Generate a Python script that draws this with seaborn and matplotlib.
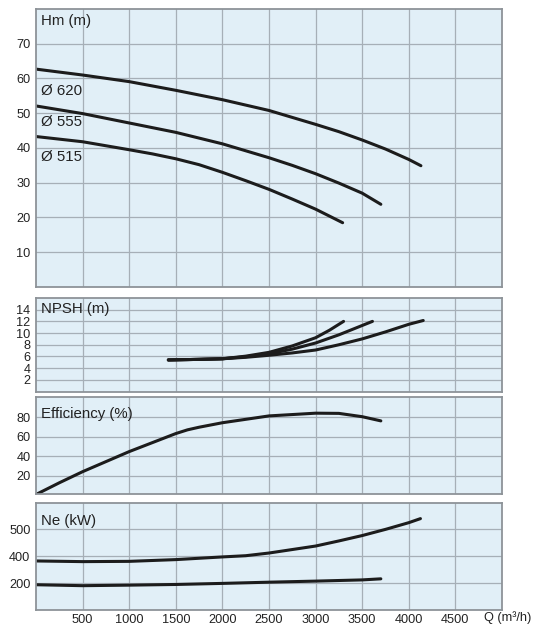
import numpy as np
import pandas as pd
import matplotlib
matplotlib.use("Agg")
import matplotlib.pyplot as plt
import seaborn as sns

# --- data ---
q_ticks = [500, 1000, 1500, 2000, 2500, 3000, 3500, 4000, 4500]

# head curves per impeller diameter
hm_labels = ["Ø 620", "Ø 555", "Ø 515"]
q_620 = [0, 500, 1000, 1500, 2000, 2500, 3000, 3250, 3500, 3750, 4000, 4130]
hm_620 = [62.7, 61.0, 59.1, 56.6, 53.9, 50.8, 46.8, 44.7, 42.3, 39.7, 36.7, 34.9]
q_555 = [0, 500, 1000, 1500, 2000, 2500, 2750, 3000, 3250, 3500, 3700]
hm_555 = [52.1, 49.9, 47.2, 44.5, 41.2, 37.2, 35.0, 32.6, 29.9, 27.0, 23.8]
q_515 = [0, 500, 1000, 1250, 1500, 1750, 2000, 2250, 2500, 2750, 3000, 3290]
hm_515 = [43.3, 41.8, 39.5, 38.3, 36.9, 35.2, 33.0, 30.6, 28.1, 25.3, 22.4, 18.5]

# NPSH curves
q_npsh1 = [1420, 1750, 2000, 2250, 2500, 2750, 3000, 3150, 3300]
npsh1 = [5.4, 5.5, 5.6, 6.05, 6.7, 7.8, 9.2, 10.5, 12.0]
q_npsh2 = [1420, 1750, 2000, 2250, 2500, 2750, 3000, 3250, 3500, 3610]
npsh2 = [5.4, 5.5, 5.6, 5.95, 6.45, 7.25, 8.3, 9.7, 11.3, 12.0]
q_npsh3 = [1420, 1750, 2000, 2250, 2500, 2750, 3000, 3250, 3500, 3750, 4000, 4155]
npsh3 = [5.4, 5.5, 5.6, 5.85, 6.2, 6.6, 7.1, 8.0, 9.0, 10.2, 11.5, 12.15]

# efficiency
q_eff = [0, 250, 500, 1000, 1500, 1625, 1750, 2000, 2500, 3000, 3250, 3500, 3700]
eff = [1, 13, 24.4, 45, 63.5, 67.3, 70.0, 74.6, 81.6, 84.4, 84.2, 80.8, 76.5]

# shaft power
q_ne_hi = [0, 500, 1000, 1500, 2000, 2250, 2500, 3000, 3250, 3500, 3750, 4000, 4125]
ne_hi = [365, 360, 362, 375, 395, 402, 412, 438, 457, 477, 500, 525, 540]
q_ne_lo = [0, 500, 1000, 1500, 2000, 2500, 3000, 3500, 3700]
ne_lo = [188, 181, 185, 190, 198, 207, 215, 224, 232]
ne_ticks = [200, 400, 500]

# --- style ---
sns.set_theme(style="whitegrid")
plt.rcParams["font.family"] = ["Liberation Sans", "DejaVu Sans"]

bg = "#e1eff7"
grid_c = "#a6afb7"
spine_c = "#8d9398"
ink = "#1c1c1c"
lw = 2.2

fig = plt.figure(figsize=(5.36, 6.30), dpi=100)

W, H = 536, 630
left, right = 36, 502


def make_ax(top, bottom):
    return fig.add_axes([left / W, 1 - bottom / H, (right - left) / W, (bottom - top) / H])


ax_hm = make_ax(9, 287)
ax_np = make_ax(298, 391.5)
ax_ef = make_ax(397, 494)
ax_ne = make_ax(502.5, 610)

# piecewise scale for the power axis (ticks 200 / 400 / 500 equally spaced)
ne_vals = [0, 200, 400, 500, 600]
ne_pos = [-1, 0, 1, 2, 3]
ax_ne.set_yscale("function",
                 functions=(lambda v: np.interp(v, ne_vals, ne_pos),
                            lambda p: np.interp(p, ne_pos, ne_vals)))


def draw(ax, q, v):
    sns.lineplot(x=q, y=v, ax=ax, color=ink, linewidth=lw, estimator=None, sort=False)


draw(ax_hm, q_620, hm_620)
draw(ax_hm, q_555, hm_555)
draw(ax_hm, q_515, hm_515)
draw(ax_np, q_npsh1, npsh1)
draw(ax_np, q_npsh2, npsh2)
draw(ax_np, q_npsh3, npsh3)
draw(ax_ef, q_eff, eff)
draw(ax_ne, q_ne_hi, ne_hi)
draw(ax_ne, q_ne_lo, ne_lo)

ax_hm.set_ylim(0, 80)
ax_hm.set_yticks(range(10, 80, 10))
ax_np.set_ylim(0, 16)
ax_np.set_yticks(range(2, 16, 2))
ax_ef.set_ylim(1.5, 101)
ax_ef.set_yticks([20, 40, 60, 80])
ax_ne.set_ylim(0, 600)
ax_ne.set_yticks(ne_ticks)
ax_ne.set_yticklabels([str(t) for t in ne_ticks])

for ax in [ax_hm, ax_np, ax_ef, ax_ne]:
    ax.set_facecolor(bg)
    ax.set_xlim(0, 5000)
    ax.set_xticks(q_ticks)
    ax.grid(True, color=grid_c, linewidth=0.9)
    ax.set_xlabel("")
    ax.set_ylabel("")
    ax.tick_params(length=0, labelsize=9.2, colors="#222222", pad=4)
    for s in ax.spines.values():
        s.set_color(spine_c)
        s.set_linewidth(1.3)
    if ax is not ax_ne:
        ax.set_xticklabels([])

ax_ne.tick_params(axis="x", pad=3)
ax_ne.set_xticklabels([str(t) for t in q_ticks])

# panel titles
lab_kw = dict(fontsize=10.8, color="#222222", va="center", ha="left")
ax_hm.text(0.011, 1 - 12 / 278, "Hm (m)", transform=ax_hm.transAxes, **lab_kw)
ax_np.text(0.011, 1 - 11 / 93.5, "NPSH (m)", transform=ax_np.transAxes, **lab_kw)
ax_ef.text(0.011, 1 - 17 / 97, "Efficiency (%)", transform=ax_ef.transAxes, **lab_kw)
ax_ne.text(0.011, 1 - 18 / 107.5, "Ne (kW)", transform=ax_ne.transAxes, **lab_kw)

# diameter labels
for lab, y in zip(hm_labels, [56.4, 47.5, 37.4]):
    ax_hm.text(50, y, lab, **lab_kw)

fig.text(484 / W, 1 - 618 / H, "Q (m³/h)", fontsize=9.2, color="#222222",
         va="center", ha="left")

fig.savefig("out.png", dpi=100)
